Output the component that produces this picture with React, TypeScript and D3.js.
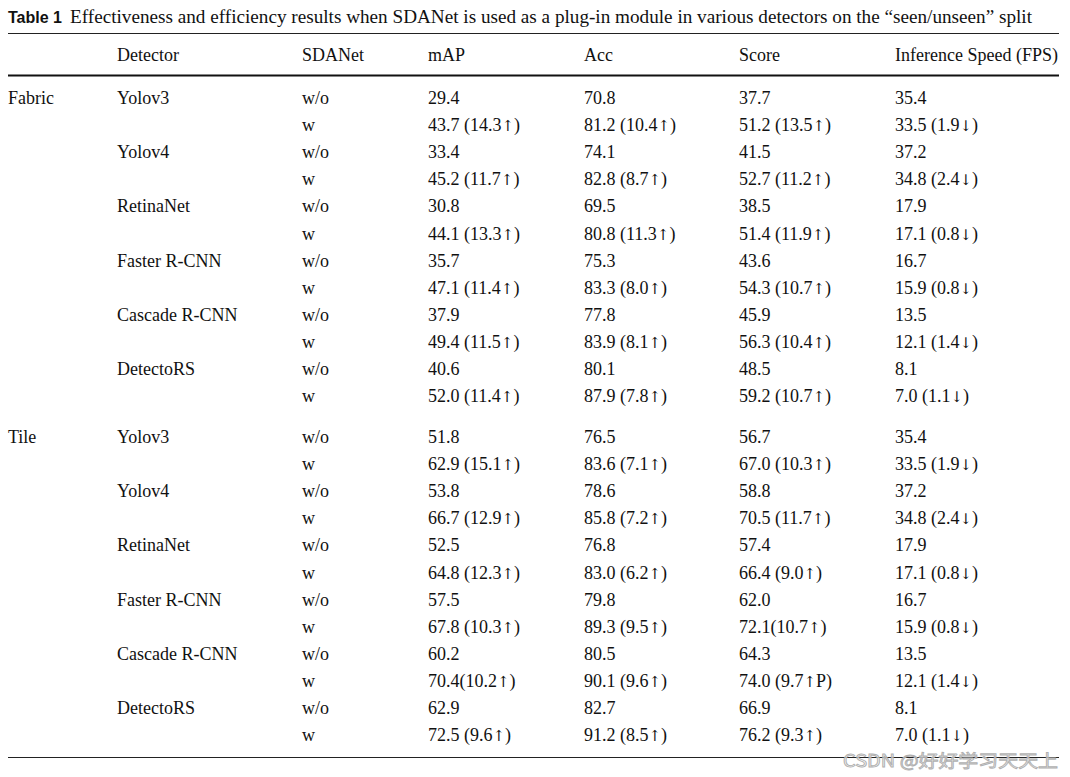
import React from "react";
import * as d3 from "d3";

const headers = ["Detector", "SDANet", "mAP", "Acc", "Score", "Inference Speed (FPS)"];
const datasets = ["Fabric", "Tile"];
const detectors = ["Yolov3", "Yolov4", "RetinaNet", "Faster R-CNN", "Cascade R-CNN", "DetectoRS"];
const sdanet = ["w/o", "w"];

const fabricMAP = ["29.4", "43.7 (14.3↑)", "33.4", "45.2 (11.7↑)", "30.8", "44.1 (13.3↑)", "35.7", "47.1 (11.4↑)", "37.9", "49.4 (11.5↑)", "40.6", "52.0 (11.4↑)"];
const fabricAcc = ["70.8", "81.2 (10.4↑)", "74.1", "82.8 (8.7↑)", "69.5", "80.8 (11.3↑)", "75.3", "83.3 (8.0↑)", "77.8", "83.9 (8.1↑)", "80.1", "87.9 (7.8↑)"];
const fabricScore = ["37.7", "51.2 (13.5↑)", "41.5", "52.7 (11.2↑)", "38.5", "51.4 (11.9↑)", "43.6", "54.3 (10.7↑)", "45.9", "56.3 (10.4↑)", "48.5", "59.2 (10.7↑)"];
const fabricFPS = ["35.4", "33.5 (1.9↓)", "37.2", "34.8 (2.4↓)", "17.9", "17.1 (0.8↓)", "16.7", "15.9 (0.8↓)", "13.5", "12.1 (1.4↓)", "8.1", "7.0 (1.1↓)"];

const tileMAP = ["51.8", "62.9 (15.1↑)", "53.8", "66.7 (12.9↑)", "52.5", "64.8 (12.3↑)", "57.5", "67.8 (10.3↑)", "60.2", "70.4(10.2↑)", "62.9", "72.5 (9.6↑)"];
const tileAcc = ["76.5", "83.6 (7.1↑)", "78.6", "85.8 (7.2↑)", "76.8", "83.0 (6.2↑)", "79.8", "89.3 (9.5↑)", "80.5", "90.1 (9.6↑)", "82.7", "91.2 (8.5↑)"];
const tileScore = ["56.7", "67.0 (10.3↑)", "58.8", "70.5 (11.7↑)", "57.4", "66.4 (9.0↑)", "62.0", "72.1(10.7↑)", "64.3", "74.0 (9.7↑P)", "66.9", "76.2 (9.3↑)"];
const tileFPS = ["35.4", "33.5 (1.9↓)", "37.2", "34.8 (2.4↓)", "17.9", "17.1 (0.8↓)", "16.7", "15.9 (0.8↓)", "13.5", "12.1 (1.4↓)", "8.1", "7.0 (1.1↓)"];

const titleLabel = "Table 1";
const titleText = "Effectiveness and efficiency results when SDANet is used as a plug-in module in various detectors on the \u201cseen/unseen\u201d split";
const watermark = "CSDN @好好学习天天上";

const W = 1070;
const H = 777;
const serif = "'Liberation Serif', 'Times New Roman', serif";
const sans = "'Liberation Sans', Arial, sans-serif";
const arrowFont = "'DejaVu Serif', serif";
const FS = 18;

function Cell({ x, y, s }: { x: number; y: number; s: string }) {
  const parts = s.split(/([↑↓])/);
  return (
    <text x={x} y={y}>
      {parts.map((p, i) =>
        p === "↑" || p === "↓" ? (
          <tspan key={i} fontFamily={arrowFont} fontSize={15}>{p}</tspan>
        ) : (
          <tspan key={i}>{p}</tspan>
        )
      )}
    </text>
  );
}

export default function App() {
  const colX = [117, 302, 428, 584, 739, 895];
  const groupX = 8;
  const rowsPer = detectors.length * sdanet.length;
  const groupStart = [104, 443];
  const rowStep = 27.1;
  const y = d3.scaleLinear().domain([0, 1]).range([0, rowStep]);

  const groupCols = [
    [fabricMAP, fabricAcc, fabricScore, fabricFPS],
    [tileMAP, tileAcc, tileScore, tileFPS],
  ];

  const left = 8;
  const right = 1059;

  const cells: React.ReactNode[] = [];
  datasets.forEach((ds, g) => {
    const y0 = groupStart[g];
    cells.push(<text key={`g${g}`} x={groupX} y={y0}>{ds}</text>);
    for (let r = 0; r < rowsPer; r++) {
      const yy = y0 + y(r);
      if (r % 2 === 0) {
        cells.push(<text key={`d${g}-${r}`} x={colX[0]} y={yy}>{detectors[r / 2]}</text>);
      }
      cells.push(<text key={`s${g}-${r}`} x={colX[1]} y={yy}>{sdanet[r % 2]}</text>);
      groupCols[g].forEach((col, c) => {
        cells.push(<Cell key={`v${g}-${r}-${c}`} x={colX[c + 2]} y={yy} s={col[r]} />);
      });
    }
  });

  return (
    <svg width={W} height={H} style={{ position: "absolute", left: 0, top: 0, background: "#fff" }}>
      <rect x={0} y={0} width={W} height={H} fill="#fff" />
      <text x={8} y={23} fontFamily={sans} fontWeight="bold" fontSize={16} fill="#111" textLength={54} lengthAdjust="spacingAndGlyphs">{titleLabel}</text>
      <text x={70} y={23} fontFamily={serif} fontSize={FS} fill="#111" textLength={962} lengthAdjust="spacingAndGlyphs">{titleText}</text>
      <line x1={left} x2={right} y1={33.5} y2={33.5} stroke="#222" strokeWidth={1} />
      <g fontFamily={serif} fontSize={FS} fill="#111">
        {headers.map((h, i) => (
          <text key={h} x={colX[i]} y={61}>{h}</text>
        ))}
      </g>
      <line x1={left} x2={right} y1={75.5} y2={75.5} stroke="#111" strokeWidth={2} />
      <g fontFamily={serif} fontSize={FS} fill="#111">{cells}</g>
      <line x1={left} x2={right} y1={757.5} y2={757.5} stroke="#222" strokeWidth={1} />
      <text x={1058} y={767} textAnchor="end" fontFamily="'Noto Sans CJK SC', sans-serif" fontSize={17} fill="#fff" fillOpacity={0.6} stroke="#b0b0b0" strokeWidth={0.9} textLength={215} lengthAdjust="spacingAndGlyphs">{watermark}</text>
    </svg>
  );
}
